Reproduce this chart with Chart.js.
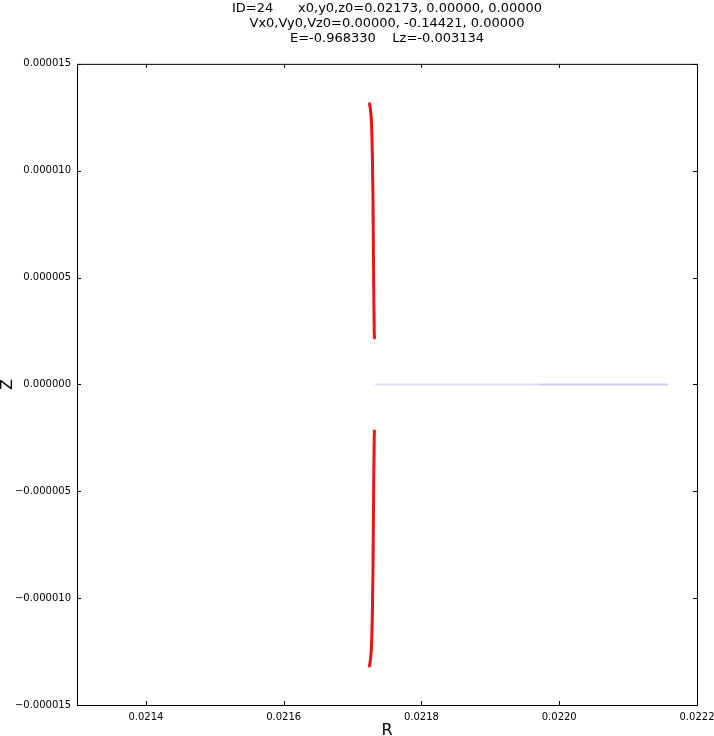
<!DOCTYPE html>
<html>
<head>
<meta charset="utf-8">
<script src="https://cdn.jsdelivr.net/npm/chart.js@4/dist/chart.umd.min.js"></script>
<style>
html,body{margin:0;padding:0;background:#fff;}
#c{display:block;}
</style>
</head>
<body>
<canvas id="c" width="714" height="736"></canvas>
<script>
const titleLines = [
  "ID=24      x0,y0,z0=0.02173, 0.00000, 0.00000",
  "Vx0,Vy0,Vz0=0.00000, -0.14421, 0.00000",
  "E=-0.968330    Lz=-0.003134"
];
const xTicks = [0.0214, 0.0216, 0.0218, 0.0220, 0.0222];
const xTickLabels = ["0.0214", "0.0216", "0.0218", "0.0220", "0.0222"];
const yTicks = [0.000015, 0.00001, 0.000005, 0, -0.000005, -0.00001, -0.000015];
const yTickLabels = ["0.000015", "0.000010", "0.000005", "0.000000", "\u22120.000005", "\u22120.000010", "\u22120.000015"];

const upperR = [0.0217318, 0.0217314, 0.0217304, 0.0217295, 0.0217286, 0.0217275, 0.0217260, 0.0217246];
const upperZ = [0.00000218, 0.00000255, 0.00000583, 0.00000910, 0.00001098, 0.00001224, 0.00001285, 0.00001313];
const lowerR = [0.0217318, 0.0217314, 0.0217304, 0.0217295, 0.0217286, 0.0217275, 0.0217260, 0.0217246];
const lowerZ = [-0.00000218, -0.00000255, -0.00000583, -0.00000910, -0.00001098, -0.00001224, -0.00001285, -0.00001318];

const planeR1 = [0.021733, 0.021970];
const planeZ1 = [0, 0];
const planeR2 = [0.021970, 0.022158];
const planeZ2 = [0, 0];

const pts = (xs, ys) => xs.map((x, i) => ({x: x, y: ys[i]}));

const frameTicks = {
  id: 'frameTicks',
  afterLayout(chart) {
    const t = chart.titleBlock, a = chart.chartArea;
    if (t && a) { t.left = a.left; t.right = a.right; t.width = a.right - a.left; }
  },
  afterDraw(chart) {
    const ctx = chart.ctx;
    const a = chart.chartArea;
    const xs = chart.scales.x, ys = chart.scales.y;
    ctx.save();
    ctx.strokeStyle = '#000';
    ctx.lineWidth = 1;
    ctx.strokeRect(a.left + 0.5, a.top + 0.5, a.right - a.left, a.bottom - a.top);
    ctx.beginPath();
    xTicks.forEach(v => {
      const p = Math.round(xs.getPixelForValue(v)) + 0.5;
      ctx.moveTo(p, a.bottom); ctx.lineTo(p, a.bottom - 4);
      ctx.moveTo(p, a.top); ctx.lineTo(p, a.top + 4);
    });
    yTicks.forEach(v => {
      const p = Math.round(ys.getPixelForValue(v)) + 0.5;
      ctx.moveTo(a.left, p); ctx.lineTo(a.left + 4, p);
      ctx.moveTo(a.right, p); ctx.lineTo(a.right - 4, p);
    });
    ctx.stroke();
    ctx.restore();
  }
};

new Chart(document.getElementById('c'), {
  type: 'scatter',
  data: {
    datasets: [
      {data: pts(planeR1, planeZ1), showLine: true, borderColor: 'rgba(222,216,246,0.9)', borderWidth: 2, pointRadius: 0},
      {data: pts(planeR2, planeZ2), showLine: true, borderColor: 'rgba(206,198,242,0.95)', borderWidth: 2, pointRadius: 0},
      {data: pts(upperR, upperZ), showLine: true, borderColor: '#ee1111', borderWidth: 3, pointRadius: 0, cubicInterpolationMode: 'monotone', borderCapStyle: 'round'},
      {data: pts(lowerR, lowerZ), showLine: true, borderColor: '#ee1111', borderWidth: 3, pointRadius: 0, cubicInterpolationMode: 'monotone', borderCapStyle: 'round'}
    ]
  },
  options: {
    responsive: false,
    animation: false,
    devicePixelRatio: 1,
    layout: {padding: {left: 0, right: 0, top: 0, bottom: 0}},
    plugins: {
      legend: {display: false},
      tooltip: {enabled: false},
      title: {
        display: true,
        text: titleLines,
        color: '#000',
        font: {family: 'DejaVu Sans', size: 13, weight: 'normal', lineHeight: 1.15},
        padding: {top: 1, bottom: 18}
      }
    },
    scales: {
      x: {
        type: 'linear',
        min: 0.0213,
        max: 0.0222,
        afterBuildTicks: s => { s.ticks = xTicks.map(v => ({value: v})); },
        afterFit: s => { s.height = 31; s.paddingRight = 17; s.paddingLeft = 0; },
        grid: {display: false, drawTicks: false},
        border: {display: false},
        ticks: {
          color: '#000',
          font: {family: 'DejaVu Sans', size: 10},
          padding: 6,
          maxRotation: 0,
          callback: (v) => { const i = xTicks.findIndex(t => Math.abs(t - v) < 1e-9); return i >= 0 ? xTickLabels[i] : ''; }
        },
        title: {display: true, text: 'R', color: '#000', font: {family: 'DejaVu Sans', size: 16, lineHeight: 1}, padding: {top: 0, bottom: -3}}
      },
      y: {
        type: 'linear',
        min: -0.000015,
        max: 0.000015,
        afterBuildTicks: s => { s.ticks = yTicks.map(v => ({value: v})); },
        afterFit: s => { s.width = 77; },
        grid: {display: false, drawTicks: false},
        border: {display: false},
        ticks: {
          color: '#000',
          font: {family: 'DejaVu Sans', size: 10},
          padding: 6,
          callback: (v) => { const i = yTicks.findIndex(t => Math.abs(t - v) < 1e-12); return i >= 0 ? yTickLabels[i] : ''; }
        },
        title: {display: true, text: 'Z', color: '#000', font: {family: 'DejaVu Sans', size: 16, lineHeight: 1}, padding: {top: 0, bottom: 0}}
      }
    }
  },
  plugins: [frameTicks]
});
</script>
</body>
</html>
